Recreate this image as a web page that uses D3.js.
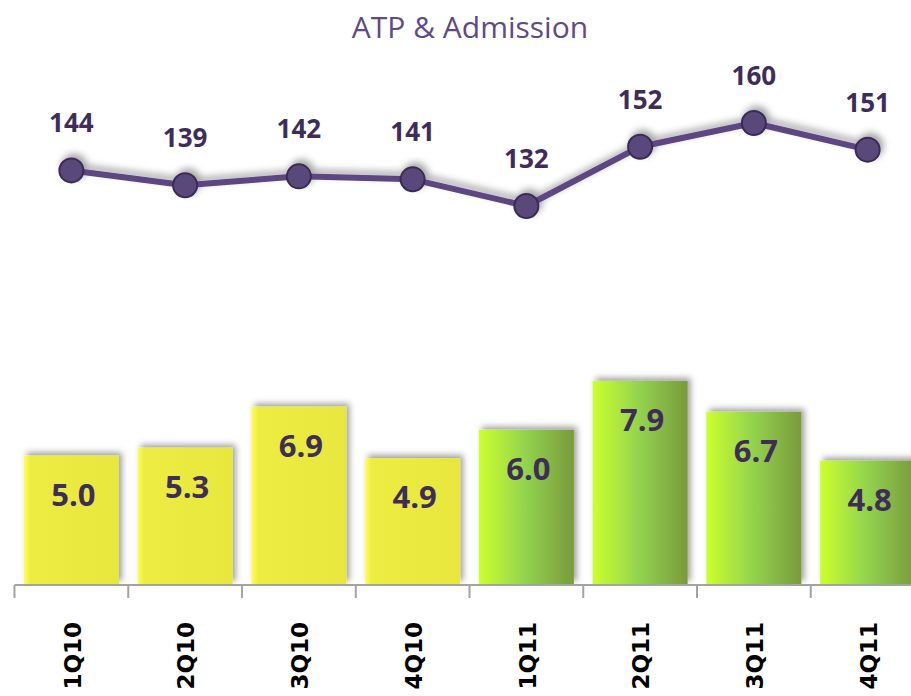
<!DOCTYPE html>
<html>
<head>
<meta charset="utf-8">
<script src="https://cdn.jsdelivr.net/npm/d3@7"></script>
<style>
  html, body { margin: 0; padding: 0; background: #ffffff; }
  svg { display: block; }
</style>
</head>
<body>
<svg id="chart" width="911" height="696"></svg>
<script>
const categories = ["1Q10", "2Q10", "3Q10", "4Q10", "1Q11", "2Q11", "3Q11", "4Q11"];
const atpValues = [144, 139, 142, 141, 132, 152, 160, 151];
const admissionValues = [5.0, 5.3, 6.9, 4.9, 6.0, 7.9, 6.7, 4.8];
const titleText = "ATP & Admission";

const svg = d3.select("#chart");
const W = 911, H = 696;

const defs = svg.append("defs");
const shadow = defs.append("filter").attr("id", "shadow")
  .attr("x", "-20%").attr("y", "-20%").attr("width", "140%").attr("height", "140%");
shadow.append("feDropShadow").attr("dx", 3).attr("dy", -3).attr("stdDeviation", 3)
  .attr("flood-color", "#000").attr("flood-opacity", 0.38);

const ptShadow = defs.append("filter").attr("id", "ptshadow")
  .attr("x", "-60%").attr("y", "-60%").attr("width", "220%").attr("height", "220%");
ptShadow.append("feDropShadow").attr("dx", 3).attr("dy", -4).attr("stdDeviation", 3.5)
  .attr("flood-color", "#000").attr("flood-opacity", 0.35);

const gy = defs.append("linearGradient").attr("id", "gYellow")
  .attr("x1", "0%").attr("x2", "100%").attr("y1", "0%").attr("y2", "0%");
gy.append("stop").attr("offset", "0%").attr("stop-color", "#ffff58");
gy.append("stop").attr("offset", "7%").attr("stop-color", "#ecec42");
gy.append("stop").attr("offset", "100%").attr("stop-color", "#e7e73e");

const gg = defs.append("linearGradient").attr("id", "gGreen")
  .attr("x1", "0%").attr("x2", "100%").attr("y1", "0%").attr("y2", "0%");
gg.append("stop").attr("offset", "0%").attr("stop-color", "#ccff2e");
gg.append("stop").attr("offset", "50%").attr("stop-color", "#92d24e");
gg.append("stop").attr("offset", "100%").attr("stop-color", "#7a9a3c");

// Scales
const xOuter = d3.scaleBand().domain(categories).range([14.5, 924.5]).padding(0);
const xBar = d3.scaleBand().domain(categories).range([14.5, 924.5])
  .paddingInner(0.165).paddingOuter(0.0825);
const yBar = d3.scaleLinear().domain([0, 8]).range([584, 378.4]);
const yLine = d3.scaleLinear().domain([132, 160]).range([206, 123]);
const cx = c => xOuter(c) + xOuter.bandwidth() / 2;

// Title
svg.append("text")
  .attr("x", 470).attr("y", 38)
  .attr("text-anchor", "middle")
  .attr("font-family", "'Open Sans', sans-serif")
  .attr("font-size", 30)
  .attr("fill", "#5e4a87")
  .text(titleText);

// Bars
const bars = svg.append("g").attr("filter", "url(#shadow)");
bars.selectAll("rect").data(categories).join("rect")
  .attr("x", c => xBar(c))
  .attr("y", (c, i) => yBar(admissionValues[i]))
  .attr("width", xBar.bandwidth())
  .attr("height", (c, i) => yBar(0) - yBar(admissionValues[i]))
  .attr("fill", c => c.endsWith("11") ? "url(#gGreen)" : "url(#gYellow)");

svg.append("g").selectAll("text").data(categories).join("text")
  .attr("x", c => cx(c) + 2)
  .attr("y", (c, i) => yBar(admissionValues[i]) + 50)
  .attr("text-anchor", "middle")
  .attr("font-family", "'Open Sans', sans-serif")
  .attr("font-weight", 700)
  .attr("font-size", 31)
  .attr("fill", "#3f2d59")
  .text((c, i) => d3.format(".1f")(admissionValues[i]));

// Axis
const axis = svg.append("g");
axis.append("line")
  .attr("x1", 14.5).attr("x2", W).attr("y1", 585).attr("y2", 585)
  .attr("stroke", "#a3a3a3").attr("stroke-width", 2);
axis.selectAll("line.tick").data(categories).join("line")
  .attr("class", "tick")
  .attr("x1", c => xOuter(c)).attr("x2", c => xOuter(c))
  .attr("y1", 585).attr("y2", 598)
  .attr("stroke", "#a3a3a3").attr("stroke-width", 2);
axis.selectAll("text").data(categories).join("text")
  .attr("transform", c => `translate(${cx(c) + 1},622) rotate(-90)`)
  .attr("text-anchor", "end")
  .attr("dy", "0.36em")
  .attr("font-family", "'DejaVu Sans', Verdana, sans-serif")
  .attr("font-weight", 700)
  .attr("font-size", 23)
  .attr("fill", "#000")
  .text(c => c);

// Line
const lineGen = d3.line()
  .x((v, i) => cx(categories[i]))
  .y(v => yLine(v));
const lg = svg.append("g").attr("filter", "url(#ptshadow)");
lg.append("path")
  .datum(atpValues)
  .attr("d", lineGen)
  .attr("fill", "none")
  .attr("stroke", "#5b4682")
  .attr("stroke-width", 6)
  .attr("stroke-linejoin", "round");
lg.selectAll("circle").data(atpValues).join("circle")
  .attr("cx", (v, i) => cx(categories[i]))
  .attr("cy", v => yLine(v))
  .attr("r", 12)
  .attr("fill", "#584a7a")
  .attr("stroke", "#3a2b55")
  .attr("stroke-width", 2);

svg.append("g").selectAll("text").data(atpValues).join("text")
  .attr("x", (v, i) => cx(categories[i]))
  .attr("y", v => yLine(v) - 38)
  .attr("text-anchor", "middle")
  .attr("font-family", "'Open Sans', sans-serif")
  .attr("font-weight", 700)
  .attr("font-size", 26)
  .attr("fill", "#3f2d59")
  .text(v => v);
</script>
</body>
</html>
